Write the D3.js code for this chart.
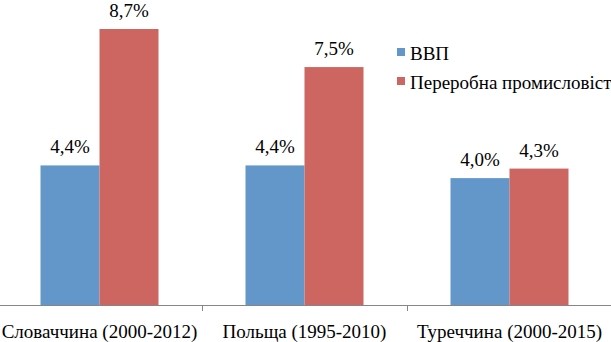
<!DOCTYPE html>
<html><head><meta charset="utf-8">
<script src="https://cdn.jsdelivr.net/npm/d3@7"></script>
</head><body style="margin:0">
<svg id="c" width="611" height="342"></svg>
<script>
const categories = ["Словаччина (2000-2012)", "Польща (1995-2010)", "Туреччина (2000-2015)"];
const seriesNames = ["ВВП", "Переробна промисловість"];
const gdp = [4.4, 4.4, 4.0];
const manufacturing = [8.7, 7.5, 4.3];
const labelsGdp = ["4,4%", "4,4%", "4,0%"];
const labelsMan = ["8,7%", "7,5%", "4,3%"];
const colors = ["#6397CA", "#CD6660"];

const svg = d3.select("#c");
const baseY = 305;
const x = d3.scaleBand().domain(categories).range([-3, 612]).paddingInner(0).paddingOuter(0);
const y = d3.scaleLinear().domain([0, 8.7]).range([baseY, 29]);
const barW = 59;
const series = [gdp, manufacturing];
const labels = [labelsGdp, labelsMan];
const gBars = svg.append("g");
const gText = svg.append("g");
function txt(sel) {
  return sel.style("font", "19px serif").style("font-family", "serif").attr("font-family", "serif").attr("fill", "#000");
}

series.forEach((vals, si) => {
  categories.forEach((c, i) => {
    const cx = x(c) + x.bandwidth() / 2;
    const bx = cx - barW + si * barW;
    gBars.append("rect").attr("x", bx).attr("y", y(vals[i])).attr("width", barW)
      .attr("height", baseY - y(vals[i])).attr("fill", colors[si]);
    txt(gText.append("text").attr("x", bx + barW / 2).attr("y", y(vals[i]) - 12)
      .attr("text-anchor", "middle")).text(labels[si][i]);
  });
});

// axis
gBars.append("line").attr("x1", 0).attr("x2", 611).attr("y1", baseY + 0.5).attr("y2", baseY + 0.5)
  .attr("stroke", "#868686").attr("stroke-width", 1);
[1, 2].forEach(k => {
  const tx = Math.round(x(categories[k])) + 0.5;
  gBars.append("line").attr("x1", tx).attr("x2", tx).attr("y1", baseY).attr("y2", baseY + 6)
    .attr("stroke", "#868686");
});
categories.forEach(c => {
  txt(gText.append("text").attr("x", x(c) + x.bandwidth() / 2).attr("y", 338)
    .attr("text-anchor", "middle")).text(c);
});

// legend
seriesNames.forEach((n, i) => {
  const ly = 60 + i * 29;
  gBars.append("rect").attr("x", 397).attr("y", ly - 12).attr("width", 8).attr("height", 8).attr("fill", colors[i]);
  txt(gText.append("text").attr("x", 410).attr("y", ly)).text(n);
});
</script></body></html>
